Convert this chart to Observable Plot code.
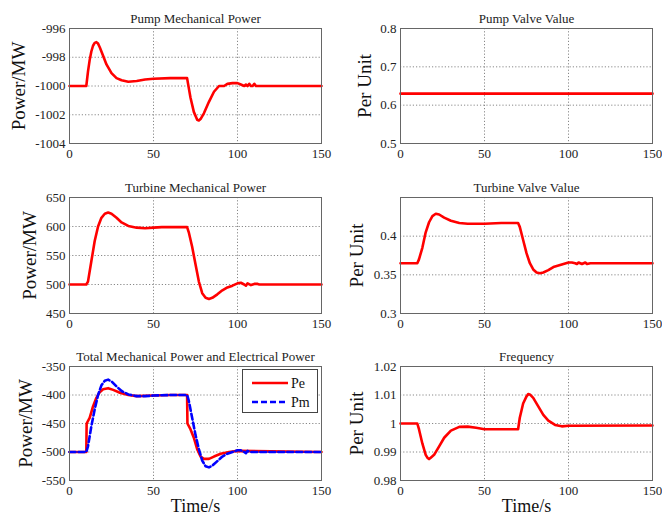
<!DOCTYPE html>
<html><head><meta charset="utf-8">
<script src="https://cdn.jsdelivr.net/npm/d3@7"></script>
<script src="https://cdn.jsdelivr.net/npm/@observablehq/plot@0.6"></script>
<style>
body{margin:0;background:#fff;}
#wrap{position:relative;width:662px;height:523px;background:#fff;font-family:"Liberation Serif",serif;overflow:hidden;}
.panel{position:absolute;}
.panel text{font-family:"Liberation Serif","Times New Roman",serif;}
#legend{position:absolute;left:242px;top:369px;width:76px;height:44px;border:1px solid #444;background:#fff;box-sizing:border-box;}
</style></head><body><div id="wrap"></div>
<script>
// ---- data ----
const xTicks = [0, 50, 100, 150];

const pumpT = [0,10,11,12,13,14,15,16,17,18,20,22,25,28,31,35,40,45,50,60,70,70.5,72,74,76,77,78,80,83,86,89,92,94,97,100,102,104,105,106,107,108,109,110,111,150];
const pumpPower = [-1000,-1000,-999,-998.2,-997.6,-997.2,-997.0,-996.95,-997.05,-997.3,-997.9,-998.5,-999.1,-999.45,-999.6,-999.7,-999.65,-999.55,-999.5,-999.45,-999.45,-999.8,-1000.8,-1001.8,-1002.35,-1002.4,-1002.3,-1001.9,-1001.1,-1000.4,-1000.0,-1000.0,-999.85,-999.8,-999.8,-999.9,-1000,-999.9,-1000,-999.85,-1000,-1000,-999.85,-1000,-1000];

const pumpValveT = [0, 150];
const pumpValve = [0.63, 0.63];

const turbT = [0,10,11,13,15,17,19,21,23,25,28,31,35,40,45,50,55,60,70,71,73,75,77,79,81,83,85,88,91,94,97,100,102,104,105,106,108,110,112,113,150];
const turbPower = [500,500,505,540,575,600,615,622,624,622,615,607,601,598,597,598,599,599,599,590,565,535,505,485,477,475,477,483,490,495,498,502,503,500,498,502,499,501,501,500,500];

const turbValveT = [0,10,11,13,15,17,19,21,23,26,30,35,40,50,60,70,71,73,75,77,79,81,83,85,88,91,94,97,100,102,104,105,106,108,110,111,113,150];
const turbValve = [0.365,0.365,0.37,0.385,0.405,0.418,0.426,0.429,0.428,0.424,0.42,0.417,0.416,0.416,0.417,0.417,0.412,0.395,0.378,0.365,0.357,0.353,0.352,0.353,0.356,0.36,0.362,0.364,0.366,0.366,0.365,0.364,0.366,0.364,0.366,0.364,0.365,0.365];

const peT = [0,10,10.2,12,14,16,18,20,23,26,30,35,40,50,60,70,70.2,72,74,76,78,80,83,86,90,95,100,150];
const pe = [-500,-500,-450,-440,-420,-405,-395,-390,-388,-391,-396,-400,-402,-401,-400,-400,-450,-460,-475,-495,-508,-512,-512,-508,-503,-500,-498,-500];

const pmT = [0,10,11,13,15,17,19,21,23,25,28,31,35,40,45,50,60,70,71,73,75,77,79,81,83,85,88,91,94,97,100,102,104,105,106,108,150];
const pm = [-500,-500,-490,-455,-425,-400,-383,-375,-373,-376,-385,-393,-399,-402,-402,-401,-400,-400,-410,-440,-470,-495,-515,-525,-527,-524,-516,-508,-503,-500,-497,-497,-500,-502,-498,-500,-500];

const freqT = [0,10,11,13,15,16,17,18,20,23,26,30,35,40,45,50,60,70,71,73,75,76,77,79,82,85,88,92,96,100,150];
const freq = [1.0,1.0,0.998,0.993,0.989,0.988,0.9875,0.988,0.989,0.992,0.995,0.9975,0.9988,0.9989,0.9985,0.998,0.998,0.998,1.002,1.007,1.0095,1.0103,1.0102,1.009,1.006,1.003,1.001,0.9995,0.999,0.9992,0.9993];

const titles = ["Pump Mechanical Power","Pump Valve Value","Turbine Mechanical Power","Turbine Valve Value","Total Mechanical Power and Electrical Power","Frequency"];

// ---- drawing ----
const SERIF = "Liberation Serif, Times New Roman, serif";
const wrap = document.getElementById("wrap");
const pts = (T, V) => T.map((t, i) => ({t, v: V[i]}));
const fmt = d => String(d);

function panel({series, yDomain, yTicks, title, ylabel, ylabelDx, xlabel, left, top, height, mt, mb}) {
  const inner = yTicks.filter(d => d !== yDomain[0] && d !== yDomain[1]);
  const marks = [
    Plot.gridX([50, 100], {stroke: "#888", strokeOpacity: 1, strokeDasharray: "1.2,2"}),
    Plot.gridY(inner, {stroke: "#888", strokeOpacity: 1, strokeDasharray: "1.2,2"})
  ];
  for (const s of series) {
    marks.push(Plot.line(pts(s.t, s.v), {x: "t", y: "v", stroke: s.color, strokeWidth: 2.6, strokeDasharray: s.dash, curve: "linear"}));
  }
  marks.push(Plot.frame({stroke: "#666"}));
  marks.push(Plot.axisX(xTicks, {tickSize: 0, tickPadding: 5, tickFormat: fmt, fontSize: 13, fontFamily: SERIF, label: null, fill: "#222"}));
  marks.push(Plot.axisY(yTicks, {tickSize: 0, tickPadding: 4, tickFormat: fmt, fontSize: 13, fontFamily: SERIF, label: null, fill: "#222"}));
  marks.push(Plot.text([title], {text: d => d, frameAnchor: "top", dy: -15, fontSize: 13, fontFamily: SERIF, fill: "#222"}));
  marks.push(Plot.text([ylabel], {text: d => d, frameAnchor: "left", textAnchor: "middle", rotate: -90, dx: ylabelDx, fontSize: 19, fontFamily: SERIF, fill: "#111"}));
  if (xlabel) marks.push(Plot.text([xlabel], {text: d => d, frameAnchor: "bottom", dy: 31, fontSize: 18, fontFamily: SERIF, fill: "#111"}));
  const svg = Plot.plot({
    width: 331, height,
    marginLeft: 69, marginRight: 10, marginTop: mt, marginBottom: mb,
    x: {domain: [0, 150]},
    y: {domain: yDomain},
    style: {fontFamily: SERIF, background: "transparent", overflow: "visible"},
    marks
  });
  svg.classList.add("panel");
  svg.style.left = left + "px";
  svg.style.top = top + "px";
  wrap.appendChild(svg);
}

const rows = [
  {top: 0, height: 170, mt: 28, mb: 27},
  {top: 170, height: 170, mt: 27, mb: 27},
  {top: 340, height: 183, mt: 26, mb: 43}
];

panel({...rows[0], left: 0, title: titles[0], ylabel: "Power/MW", ylabelDx: -51,
  yDomain: [-1004, -996], yTicks: [-1004, -1002, -1000, -998, -996],
  series: [{t: pumpT, v: pumpPower, color: "#ff0000"}]});
panel({...rows[0], left: 331, title: titles[1], ylabel: "Per Unit", ylabelDx: -36,
  yDomain: [0.5, 0.8], yTicks: [0.5, 0.6, 0.7, 0.8],
  series: [{t: pumpValveT, v: pumpValve, color: "#ff0000"}]});
panel({...rows[1], left: 0, title: titles[2], ylabel: "Power/MW", ylabelDx: -40,
  yDomain: [450, 650], yTicks: [450, 500, 550, 600, 650],
  series: [{t: turbT, v: turbPower, color: "#ff0000"}]});
panel({...rows[1], left: 331, title: titles[3], ylabel: "Per Unit", ylabelDx: -44,
  yDomain: [0.3, 0.45], yTicks: [0.3, 0.35, 0.4],
  series: [{t: turbValveT, v: turbValve, color: "#ff0000"}]});
panel({...rows[2], left: 0, title: titles[4], ylabel: "Power/MW", ylabelDx: -44, xlabel: "Time/s",
  yDomain: [-550, -350], yTicks: [-550, -500, -450, -400, -350],
  series: [{t: peT, v: pe, color: "#ff0000"}, {t: pmT, v: pm, color: "#0000ff", dash: "6,3"}]});
panel({...rows[2], left: 331, title: titles[5], ylabel: "Per Unit", ylabelDx: -44, xlabel: "Time/s",
  yDomain: [0.98, 1.02], yTicks: [0.98, 0.99, 1, 1.01, 1.02],
  series: [{t: freqT, v: freq, color: "#ff0000"}]});

// legend (bottom-left panel)
const legend = document.createElement("div");
legend.id = "legend";
legend.innerHTML = `<svg width="74" height="42" style="position:absolute;left:0;top:0;font-family:${SERIF}">
  <line x1="9" x2="45" y1="13" y2="13" stroke="#ff0000" stroke-width="2.6"/>
  <text x="48" y="13" dy="0.35em" font-size="14" fill="#111">Pe</text>
  <line x1="9" x2="45" y1="32" y2="32" stroke="#0000ff" stroke-width="2.6" stroke-dasharray="6,3"/>
  <text x="48" y="32" dy="0.35em" font-size="14" fill="#111">Pm</text>
</svg>`;
wrap.appendChild(legend);
</script></body></html>
